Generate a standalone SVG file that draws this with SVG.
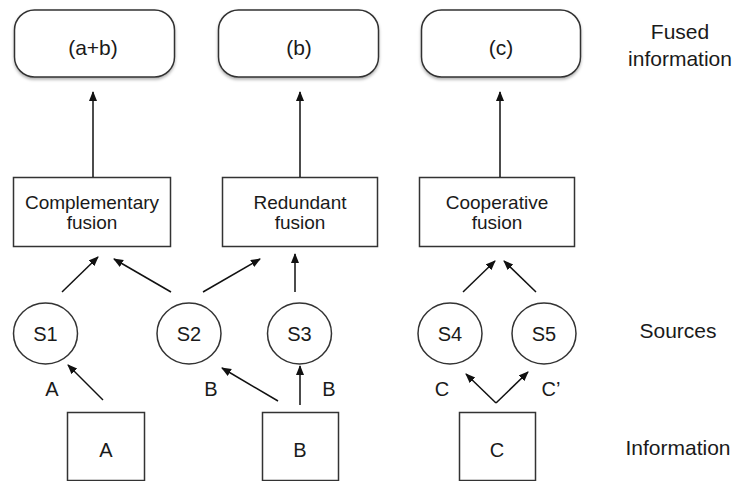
<svg xmlns="http://www.w3.org/2000/svg" width="736" height="481" viewBox="0 0 736 481">
<style>
  text { font-family: "Liberation Sans", Arial, Helvetica, sans-serif; fill: #1a1a1a; text-anchor: middle; }
  .top { font-size: 21px; }
  .box { font-size: 19px; }
  .lbl { font-size: 21px; }
  .src { font-size: 20px; }
  .node { fill: #ffffff; stroke: #333333; stroke-width: 1.5; }
  .edge { stroke: #111111; stroke-width: 1.5; fill: none; marker-end: url(#ah); }
</style>
<defs>
  <marker id="ah" markerWidth="10" markerHeight="10" refX="9" refY="4" orient="auto" markerUnits="userSpaceOnUse">
    <path d="M0,0 L10,4 L0,8 Z" fill="#111111"/>
  </marker>
  <filter id="sh" x="-10%" y="-10%" width="130%" height="140%">
    <feDropShadow dx="0" dy="2" stdDeviation="1.5" flood-color="#000000" flood-opacity="0.3"/>
  </filter>
</defs>
<rect width="736" height="481" fill="#ffffff"/>

<g id="fused-ab"><rect class="node" x="14.5" y="10" width="160" height="67" rx="20" filter="url(#sh)"/><text class="top" x="93" y="55">(a+b)</text></g>
<g id="fused-b"><rect class="node" x="218.5" y="10" width="160" height="67" rx="20" filter="url(#sh)"/><text class="top" x="299" y="55">(b)</text></g>
<g id="fused-c"><rect class="node" x="421.5" y="10" width="159" height="67" rx="20" filter="url(#sh)"/><text class="top" x="501" y="55">(c)</text></g>

<g id="label-fused"><text class="lbl" x="680" y="39">Fused</text><text class="lbl" x="680" y="66">information</text></g>
<g id="label-sources"><text class="lbl" x="678" y="338">Sources</text></g>
<g id="label-information"><text class="lbl" x="678" y="455">Information</text></g>

<g id="complementary"><rect class="node" x="13.5" y="177.5" width="157" height="69"/><text class="box" x="92" y="209">Complementary</text><text class="box" x="92" y="229">fusion</text></g>
<g id="redundant"><rect class="node" x="222.5" y="177.5" width="155" height="69"/><text class="box" x="300" y="209">Redundant</text><text class="box" x="300" y="229">fusion</text></g>
<g id="cooperative"><rect class="node" x="419.5" y="177.5" width="155" height="69"/><text class="box" x="497" y="209">Cooperative</text><text class="box" x="497" y="229">fusion</text></g>

<g id="s1"><ellipse class="node" cx="45.5" cy="333.5" rx="32" ry="30.5"/><text class="src" x="45.5" y="341">S1</text></g>
<g id="s2"><ellipse class="node" cx="189" cy="333.5" rx="32" ry="30.5"/><text class="src" x="189" y="341">S2</text></g>
<g id="s3"><ellipse class="node" cx="299.5" cy="333.5" rx="32" ry="30.5"/><text class="src" x="299.5" y="341">S3</text></g>
<g id="s4"><ellipse class="node" cx="450" cy="333.5" rx="32" ry="30.5"/><text class="src" x="450" y="341">S4</text></g>
<g id="s5"><ellipse class="node" cx="544" cy="333.5" rx="32" ry="30.5"/><text class="src" x="544" y="341">S5</text></g>

<g id="info-a"><rect class="node" x="67.5" y="412.5" width="77" height="68"/><text class="src" x="106" y="457">A</text></g>
<g id="info-b"><rect class="node" x="262.5" y="412.5" width="76" height="68"/><text class="src" x="300" y="457">B</text></g>
<g id="info-c"><rect class="node" x="459.5" y="412.5" width="76" height="68"/><text class="src" x="497" y="457">C</text></g>

<g id="connectors">
  <line class="edge" x1="93" y1="177" x2="93" y2="92"/>
  <line class="edge" x1="300" y1="177" x2="300" y2="92"/>
  <line class="edge" x1="500" y1="177" x2="500" y2="92"/>

  <line class="edge" x1="62" y1="292" x2="98" y2="257"/>
  <line class="edge" x1="171" y1="292" x2="114" y2="259"/>
  <line class="edge" x1="203" y1="292" x2="260" y2="259"/>
  <line class="edge" x1="295" y1="292" x2="295" y2="254"/>
  <line class="edge" x1="463" y1="292" x2="495" y2="261"/>
  <line class="edge" x1="536" y1="292" x2="504" y2="261"/>

  <line class="edge" x1="103" y1="400" x2="68" y2="365"/>
  <line class="edge" x1="278" y1="401" x2="222" y2="368"/>
  <line class="edge" x1="300" y1="405" x2="300" y2="366"/>
  <line class="edge" x1="496" y1="403" x2="466" y2="374"/>
  <line class="edge" x1="496" y1="403" x2="528" y2="372"/>

  <text class="src" x="52" y="396">A</text>
  <text class="src" x="211" y="396">B</text>
  <text class="src" x="329" y="396">B</text>
  <text class="src" x="442" y="396">C</text>
  <text class="src" x="551" y="396">C’</text>
</g>
</svg>
